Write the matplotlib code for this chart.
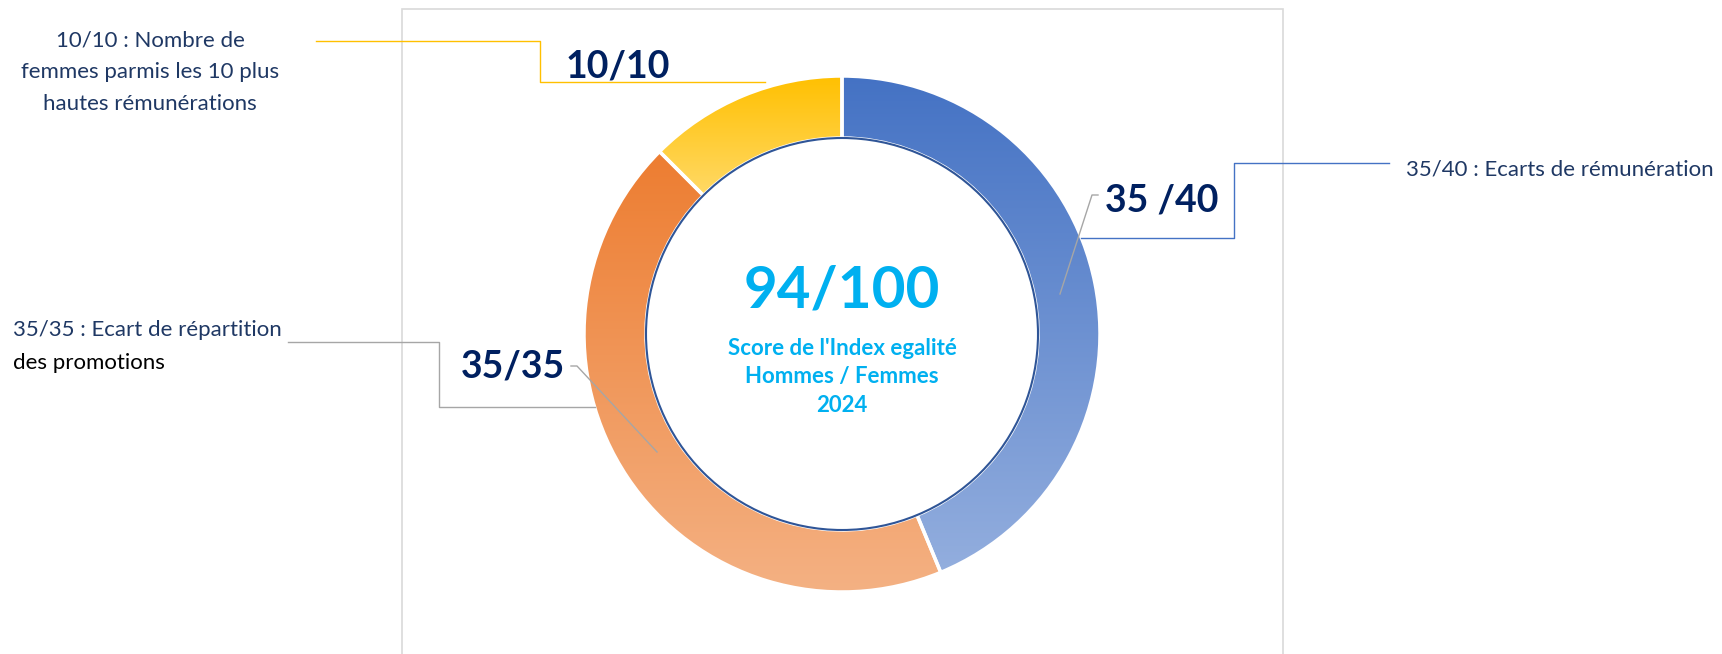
import numpy as np
import matplotlib
matplotlib.use("Agg")
import matplotlib.pyplot as plt
from matplotlib.colors import LinearSegmentedColormap
from matplotlib.patches import Circle, Rectangle

plt.rcParams["font.family"] = ["Lato", "DejaVu Sans"]

# --- données ---
scores = [35, 35, 10]
maximums = [40, 35, 10]
etiquettes = ["35 /40", "35/35", "10/10"]
descriptions = [
    "35/40 : Ecarts de rémunération",
    "35/35 : Ecart de répartition",
    "10/10 : Nombre de\nfemmes parmis les 10 plus\nhautes rémunérations",
]
score_total = "94/100"
sous_titre = "Score de l'Index egalité\nHommes / Femmes\n2024"

couleurs_haut = ["#4472C4", "#ED7D31", "#FFC000"]
couleurs_bas = ["#93AEDE", "#F4B183", "#FFD966"]

BLEU_NUIT = "#002060"
BLEU_TEXTE = "#1F3864"
CYAN = "#00B0F0"
GRIS = "#A6A6A6"

W, H = 1722, 654


def Y(y):
    # coordonnées "pixel depuis le haut" -> coordonnées du graphique
    return H - y


fig = plt.figure(figsize=(W / 100, H / 100), dpi=100)
ax = fig.add_axes([0, 0, 1, 1])
ax.set_xlim(0, W)
ax.set_ylim(0, H)
ax.axis("off")

# cadre gris clair
ax.add_patch(Rectangle((402, Y(700)), 881, 691, fill=False, edgecolor="#D9D9D9", lw=1.2, zorder=0))

# anneau
centre = (842, Y(334))
rayon = 258
epaisseur = 62
wedges, _ = ax.pie(
    scores, startangle=90, counterclock=False, radius=rayon, center=centre,
    colors=couleurs_haut, wedgeprops=dict(width=epaisseur, edgecolor="white", linewidth=2.5),
    frame=True,
)

for w, haut, bas in zip(wedges, couleurs_haut, couleurs_bas):
    ext = w.get_path().get_extents()
    cmap = LinearSegmentedColormap.from_list("g", [bas, haut])
    grad = np.linspace(0, 1, 256).reshape(-1, 1)
    im = ax.imshow(grad, extent=[ext.x0, ext.x1, ext.y0, ext.y1], origin="lower",
                   cmap=cmap, aspect="auto", zorder=1, interpolation="bilinear")
    im.set_clip_path(w)
    w.set_facecolor("none")
    w.set_zorder(2)

ax.add_patch(Circle(centre, rayon - epaisseur, fill=False, edgecolor="#2F5597", lw=1.5, zorder=3))

ax.set_xlim(0, W)
ax.set_ylim(0, H)
ax.set_aspect("equal")
ax.axis("off")

# texte central
ax.text(842, Y(291), score_total, ha="center", va="center", fontsize=42,
        fontweight="bold", color=CYAN)
ax.text(842, Y(377), sous_titre, ha="center", va="center", fontsize=16,
        fontweight="bold", color=CYAN, linespacing=1.45)

# étiquettes des segments
ax.text(1162, Y(200), etiquettes[0], ha="center", va="center", fontsize=27,
        fontweight="bold", color=BLEU_NUIT)
ax.text(513, Y(367), etiquettes[1], ha="center", va="center", fontsize=27,
        fontweight="bold", color=BLEU_NUIT)
ax.text(618, Y(66), etiquettes[2], ha="center", va="center", fontsize=27,
        fontweight="bold", color=BLEU_NUIT)

# lignes de rappel (étiquette -> segment)
ax.plot([1098, 1092, 1060], [Y(195), Y(195), Y(294)], color=GRIS, lw=1, zorder=4)
ax.plot([571, 577, 657], [Y(366), Y(366), Y(452)], color=GRIS, lw=1, zorder=4)

# descriptions et connecteurs
ax.text(1406, Y(170), descriptions[0], ha="left", va="center", fontsize=16, color=BLEU_TEXTE)
ax.plot([1389, 1234, 1234, 1081], [Y(163), Y(163), Y(238), Y(238)], color="#4472C4", lw=1, zorder=4)

ax.text(13, Y(330), descriptions[1], ha="left", va="center", fontsize=16, color=BLEU_TEXTE)
ax.text(13, Y(363), "des promotions", ha="left", va="center", fontsize=16, color="black")
ax.plot([288, 439, 439, 595], [Y(342), Y(342), Y(407), Y(407)], color=GRIS, lw=1, zorder=4)

ax.text(150, Y(72), descriptions[2], ha="center", va="center", fontsize=16,
        color=BLEU_TEXTE, linespacing=1.72)
ax.plot([316, 540, 540, 765], [Y(41), Y(41), Y(82), Y(82)], color="#FFC000", lw=1, zorder=4)

fig.savefig("out.png", dpi=100, facecolor="white")
